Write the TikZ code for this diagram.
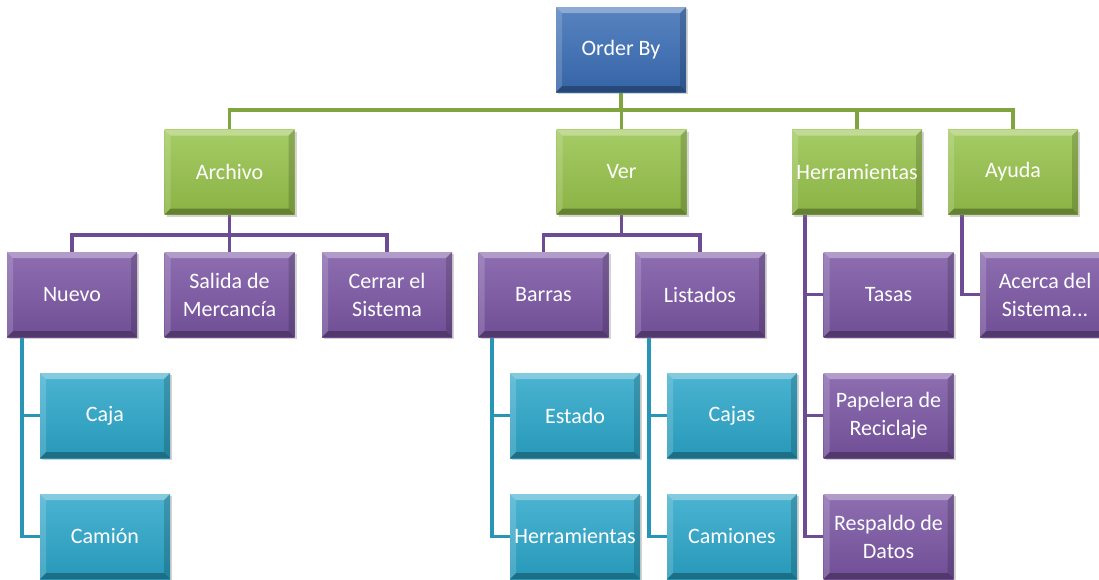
\documentclass[tikz,border=0pt]{standalone}
\usepackage{fontspec}
\setmainfont{Carlito}
\usetikzlibrary{shadows,backgrounds}
\definecolor{cblue}{HTML}{3A6DB5}
\definecolor{cgreen}{HTML}{96C24A}
\definecolor{cpurple}{HTML}{7A55A3}
\definecolor{cteal}{HTML}{2BA6C9}
\newcommand\boxbevel{%
  \fill[white,opacity=.32] (path picture bounding box.north west) -- (path picture bounding box.north east)
    -- ([xshift=-6pt,yshift=-6pt]path picture bounding box.north east) -- ([xshift=6pt,yshift=-6pt]path picture bounding box.north west) -- cycle;
  \fill[white,opacity=.16] (path picture bounding box.north west) -- ([xshift=6pt,yshift=-6pt]path picture bounding box.north west)
    -- ([xshift=6pt,yshift=6pt]path picture bounding box.south west) -- (path picture bounding box.south west) -- cycle;
  \fill[black,opacity=.28] (path picture bounding box.south west) -- (path picture bounding box.south east)
    -- ([xshift=-6pt,yshift=6pt]path picture bounding box.south east) -- ([xshift=6pt,yshift=6pt]path picture bounding box.south west) -- cycle;
  \fill[black,opacity=.16] (path picture bounding box.north east) -- ([xshift=-6pt,yshift=-6pt]path picture bounding box.north east)
    -- ([xshift=-6pt,yshift=6pt]path picture bounding box.south east) -- (path picture bounding box.south east) -- cycle;}
\tikzset{
  box/.style={rectangle, minimum width=130pt, minimum height=85pt, inner sep=0pt, align=center,
    text=white, font=\fontsize{22}{28}\selectfont,
    top color=#1!85!white, bottom color=#1!92!black,
    drop shadow={shadow xshift=2pt, shadow yshift=-2pt, opacity=.35},
    path picture={\boxbevel}},
  glink/.style={draw=cgreen!85!black, line width=3.5pt},
  plink/.style={draw=cpurple!90!black, line width=3.5pt},
  tlink/.style={draw=cteal!90!black, line width=3.5pt},
}
\begin{document}
\begin{tikzpicture}[x=1pt, y=-1pt]
\useasboundingbox (0,0) rectangle (1099,579);

% bus lines and vertical rails
\coordinate (busA) at (0,110);
\coordinate (busB) at (0,235);
\coordinate (railH) at (805,0);
\coordinate (railA) at (962,0);
\coordinate (railN) at (22,0);
\coordinate (railB) at (492,0);
\coordinate (railL) at (649,0);

% boxes
\node[box=cblue] (top) at (621,49.5) {Order By};

\node[box=cgreen] (archivo) at (229.5,172) {Archivo};
\node[box=cgreen] (ver) at (621.5,172) {Ver};
\node[box=cgreen] (herr) at (857,172) {Herramientas};
\node[box=cgreen] (ayuda) at (1013,172) {Ayuda};

\node[box=cpurple] (nuevo) at (72,294.5) {Nuevo};
\node[box=cpurple] (salida) at (229.5,294.5) {Salida de\\Mercancía};
\node[box=cpurple] (cerrar) at (387,294.5) {Cerrar el\\Sistema};
\node[box=cpurple] (barras) at (543.5,294.5) {Barras};
\node[box=cpurple] (listados) at (700,294.5) {Listados};
\node[box=cpurple] (tasas) at (888.5,294.5) {Tasas};
\node[box=cpurple] (papelera) at (888.5,415.5) {Papelera de\\Reciclaje};
\node[box=cpurple] (respaldo) at (888.5,536.5) {Respaldo de\\Datos};
\node[box=cpurple] (acerca) at (1045,294.5) {Acerca del\\Sistema...};

\node[box=cteal] (caja) at (105,415.5) {Caja};
\node[box=cteal] (camion) at (105,536.5) {Camión};
\node[box=cteal] (estado) at (575,415.5) {Estado};
\node[box=cteal] (herr2) at (575,536.5) {Herramientas};
\node[box=cteal] (cajas) at (732,415.5) {Cajas};
\node[box=cteal] (camiones) at (732,536.5) {Camiones};

% connectors, drawn behind the boxes
\begin{scope}[on background layer]
  \foreach \c in {archivo,ver,herr,ayuda}
    \draw[glink] (top.south) -- (top.south |- busA) -| (\c.north);
  \foreach \c in {nuevo,salida,cerrar}
    \draw[plink] (archivo.south) -- (archivo.south |- busB) -| (\c.north);
  \foreach \c in {barras,listados}
    \draw[plink] (ver.south) -- (ver.south |- busB) -| (\c.north);
  \foreach \c in {tasas,papelera,respaldo}
    \draw[plink] (herr.south -| railH) |- (\c.west);
  \draw[plink] (ayuda.south -| railA) |- (acerca.west);
  \foreach \c in {caja,camion}
    \draw[tlink] (nuevo.south -| railN) |- (\c.west);
  \foreach \c in {estado,herr2}
    \draw[tlink] (barras.south -| railB) |- (\c.west);
  \foreach \c in {cajas,camiones}
    \draw[tlink] (listados.south -| railL) |- (\c.west);
\end{scope}
\end{tikzpicture}
\end{document}
